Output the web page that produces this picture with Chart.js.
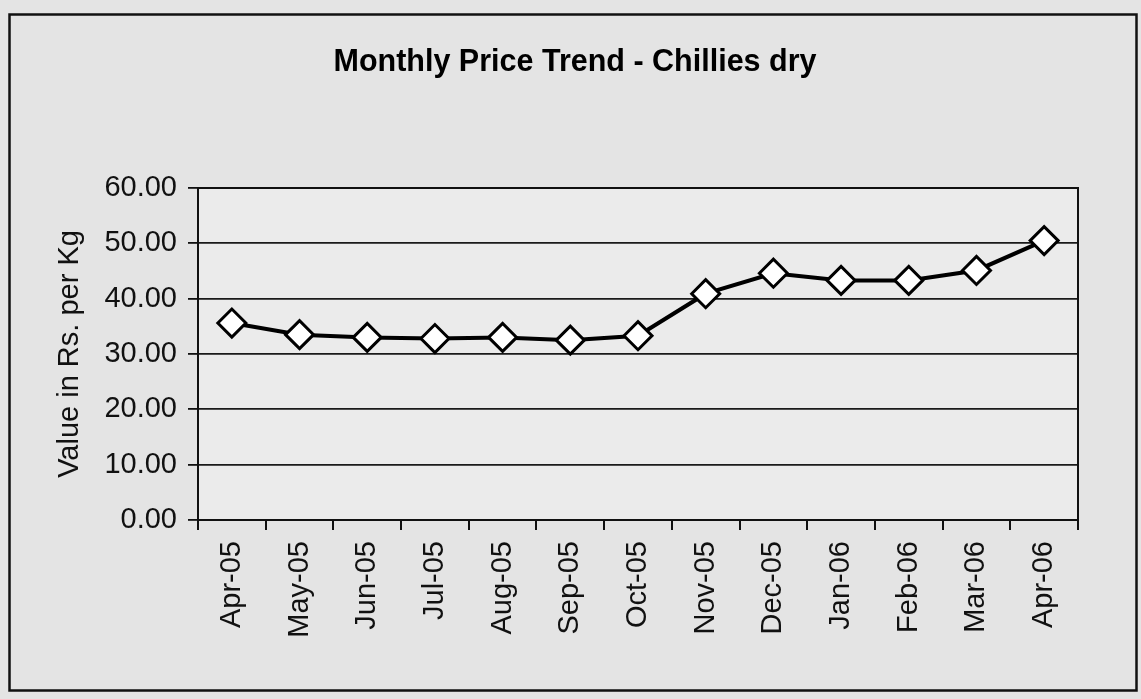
<!DOCTYPE html>
<html>
<head>
<meta charset="utf-8">
<script src="https://cdn.jsdelivr.net/npm/chart.js@4/dist/chart.umd.min.js"></script>
<style>
html,body{margin:0;padding:0;background:#e4e4e4;}
#wrap{position:relative;width:1141px;height:699px;}
</style>
</head>
<body>
<div id="wrap"><canvas id="c" width="1141" height="699"></canvas></div>
<script>
const chartTitle = 'Monthly Price Trend - Chillies dry';
const yAxisTitle = 'Value in Rs. per Kg';
const months = ['Apr-05','May-05','Jun-05','Jul-05','Aug-05','Sep-05','Oct-05','Nov-05','Dec-05','Jan-06','Feb-06','Mar-06','Apr-06'];
const prices = [35.6, 33.5, 33.0, 32.8, 33.0, 32.5, 33.3, 40.9, 44.6, 43.3, 43.3, 45.1, 50.5];
const yTicks = [0, 10, 20, 30, 40, 50, 60];

const FONT = "'Liberation Sans', Arial, sans-serif";

const framePlugin = {
  id: 'frame',
  beforeDraw(chart) {
    const ctx = chart.ctx, a = chart.chartArea;
    ctx.save();
    ctx.fillStyle = '#e4e4e4';
    ctx.fillRect(0, 0, chart.width, chart.height);
    ctx.fillStyle = '#ebebeb';
    ctx.fillRect(a.left, a.top, a.right - a.left, a.bottom - a.top);
    ctx.restore();
  },
  afterDraw(chart) {
    const ctx = chart.ctx, a = chart.chartArea;
    ctx.save();
    ctx.strokeStyle = '#111';
    ctx.lineWidth = 2;
    ctx.strokeRect(a.left, a.top, a.right - a.left, a.bottom - a.top);
    ctx.lineWidth = 2.5;
    ctx.strokeRect(9.5, 14.5, 1127, 676);
    ctx.restore();
  }
};

new Chart(document.getElementById('c'), {
  type: 'line',
  data: {
    labels: months,
    datasets: [{
      data: prices,
      borderColor: '#000',
      borderWidth: 4,
      tension: 0,
      pointStyle: 'rectRot',
      pointRadius: 14,
      pointHoverRadius: 14,
      pointBackgroundColor: '#fff',
      pointBorderColor: '#000',
      pointBorderWidth: 3,
      clip: false
    }]
  },
  options: {
    responsive: false,
    animation: false,
    events: [],
    layout: { padding: { left: 72, right: 63, top: 0, bottom: 0 } },
    plugins: {
      legend: { display: false },
      tooltip: { enabled: false },
      title: {
        display: true,
        text: chartTitle,
        color: '#000',
        font: { family: FONT, size: 30.5, weight: 'bold' },
        padding: { top: 44, bottom: 107.4 }
      }
    },
    scales: {
      x: {
        offset: true,
        grid: { display: true, offset: true, drawOnChartArea: false, drawTicks: true, tickLength: 10, color: '#111', lineWidth: 2 },
        border: { display: true, color: '#111', width: 2 },
        ticks: {
          autoSkip: false, minRotation: 90, maxRotation: 90, padding: 11,
          color: '#111', font: { family: FONT, size: 29 }
        },
        afterFit(s) { s.height = 179; }
      },
      y: {
        min: 0, max: 60,
        afterBuildTicks(s) { s.ticks = yTicks.map(v => ({ value: v })); },
        grid: { color: '#1a1a1a', lineWidth: 1.8, drawTicks: true, tickLength: 10, tickColor: '#111' },
        border: { display: true, color: '#111', width: 2 },
        ticks: {
          padding: 11, color: '#111', font: { family: FONT, size: 29 },
          callback: v => Number(v).toFixed(2)
        },
        title: {
          display: true, text: yAxisTitle, color: '#111',
          font: { family: FONT, size: 29 },
          padding: { top: -19, bottom: 0 }
        },
        afterFit(s) { s.width = 126; }
      }
    }
  },
  plugins: [framePlugin]
});
</script>
</body>
</html>
